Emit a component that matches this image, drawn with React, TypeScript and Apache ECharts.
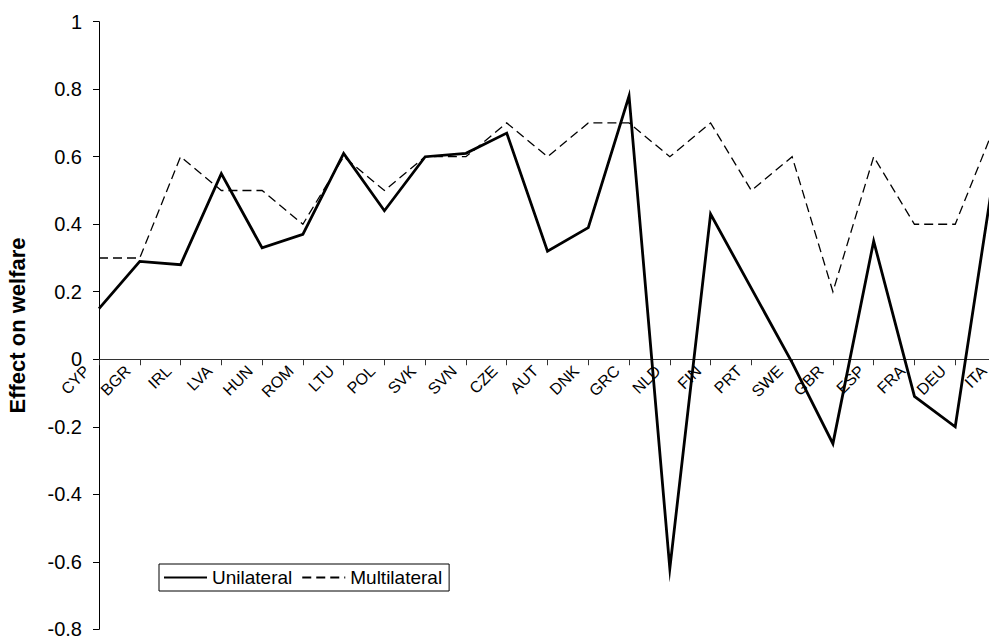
import React, { useEffect, useRef } from "react";
import * as echarts from "echarts";

const categories = ["CYP","BGR","IRL","LVA","HUN","ROM","LTU","POL","SVK","SVN","CZE","AUT","DNK","GRC","NLD","FIN","PRT","SWE","GBR","ESP","FRA","DEU","ITA"];
const unilateral = [0.15,0.29,0.28,0.55,0.33,0.37,0.61,0.44,0.60,0.61,0.67,0.32,0.39,0.78,-0.62,0.43,0.21,-0.01,-0.25,0.35,-0.11,-0.20,0.59];
const multilateral = [0.30,0.30,0.60,0.50,0.50,0.40,0.60,0.50,0.60,0.60,0.70,0.60,0.70,0.70,0.60,0.70,0.50,0.60,0.20,0.60,0.40,0.40,0.70];
const yMin = -0.8;
const yMax = 1;
const yStep = 0.2;
const yTitle = "Effect on welfare";
const seriesNames = ["Unilateral", "Multilateral"];

const FONT = "Arial, 'Liberation Sans', sans-serif";
const W = 989;
const H = 639;
const GRID_TOP = 21.7;
const GRID_BOTTOM = 9.7;

export default function App() {
  const ref = useRef<HTMLDivElement>(null);
  useEffect(() => {
    document.body.style.margin = "0";
    const chart = echarts.init(ref.current!, null, { renderer: "svg" });
    const plotH = H - GRID_TOP - GRID_BOTTOM;
    const zeroOffset = -plotH * (0 - yMin) / (yMax - yMin);
    chart.setOption({
      animation: false,
      backgroundColor: "#ffffff",
      grid: { left: 99, right: -7, top: GRID_TOP, bottom: GRID_BOTTOM, outerBoundsMode: "none" },
      legend: {
        left: 159,
        top: 564,
        orient: "horizontal",
        itemWidth: 43,
        itemHeight: 14,
        itemGap: 9,
        padding: [4, 7, 4, 4],
        borderColor: "#000",
        borderWidth: 1,
        backgroundColor: "#fff",
        itemStyle: { opacity: 0 },
        textStyle: { fontFamily: FONT, fontSize: 19, color: "#000" },
        data: seriesNames,
      },
      xAxis: {
        type: "category",
        data: categories,
        boundaryGap: false,
        position: "bottom",
        offset: zeroOffset,
        axisLine: { onZero: false, lineStyle: { color: "#333", width: 1 } },
        axisTick: { show: true, length: 6, inside: false, interval: 0, lineStyle: { color: "#333" } },
        axisLabel: {
          interval: 0,
          rotate: 45,
          margin: -3,
          padding: [0, 17, 0, 0],
          hideOverlap: false,
          fontFamily: FONT,
          fontSize: 16,
          color: "#000",
        },
        splitLine: { show: false },
      },
      yAxis: {
        type: "value",
        min: yMin,
        max: yMax,
        interval: yStep,
        name: yTitle,
        nameLocation: "middle",
        nameRotate: 90,
        nameGap: 71,
        nameTextStyle: { fontFamily: FONT, fontSize: 22, fontWeight: "bold", color: "#000" },
        axisLine: { show: true, lineStyle: { color: "#000", width: 1 } },
        axisTick: { show: true, length: 6, lineStyle: { color: "#000" } },
        axisLabel: {
          margin: 17,
          fontFamily: FONT,
          fontSize: 20,
          color: "#000",
          formatter: (v: number) => String(Number(v.toFixed(1))),
        },
        splitLine: { show: false },
      },
      series: [
        {
          name: seriesNames[0],
          type: "line",
          data: unilateral,
          symbol: "none",
          showSymbol: false,
          z: 3,
          lineStyle: { color: "#000", width: 2.8, type: "solid", join: "miter", miterLimit: 20 },
          itemStyle: { color: "#000" },
        },
        {
          name: seriesNames[1],
          type: "line",
          data: multilateral,
          symbol: "none",
          showSymbol: false,
          z: 2,
          lineStyle: { color: "#000", width: 1.3, type: [9, 5], join: "miter" },
          itemStyle: { color: "#000" },
        },
      ],
    });
    return () => chart.dispose();
  }, []);
  return <div ref={ref} style={{ width: W, height: H }} />;
}
